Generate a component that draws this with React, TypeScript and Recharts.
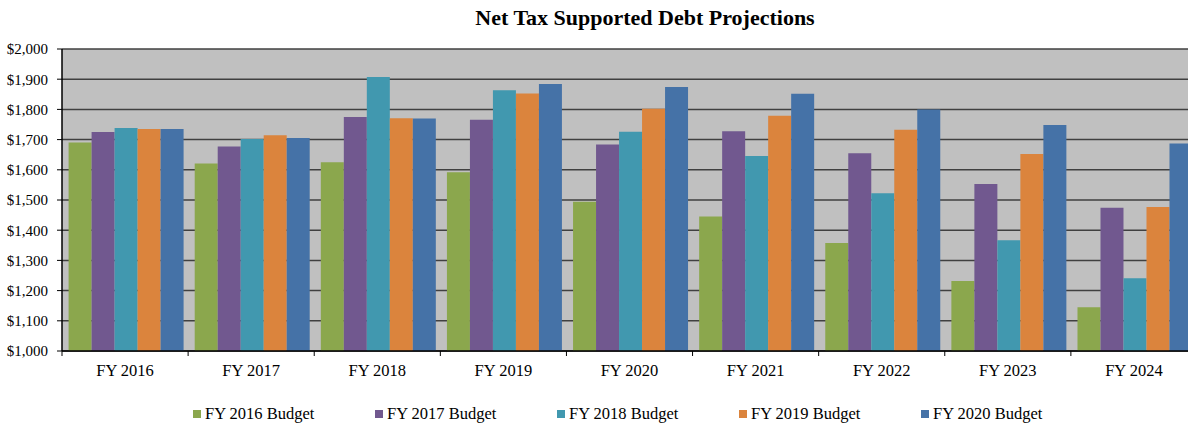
import React from "react";
import { BarChart, Bar, XAxis, YAxis, CartesianGrid, Legend } from "recharts";

const categories = ["FY 2016", "FY 2017", "FY 2018", "FY 2019", "FY 2020", "FY 2021", "FY 2022", "FY 2023", "FY 2024"];
const fy2016Budget = [1690, 1621, 1625, 1592, 1494, 1445, 1358, 1232, 1145];
const fy2017Budget = [1725, 1677, 1775, 1766, 1684, 1728, 1655, 1553, 1474];
const fy2018Budget = [1738, 1702, 1907, 1863, 1726, 1646, 1522, 1367, 1241];
const fy2019Budget = [1735, 1714, 1771, 1853, 1802, 1779, 1733, 1652, 1477];
const fy2020Budget = [1735, 1705, 1770, 1884, 1874, 1852, 1800, 1748, 1687];
const yTicks = [1000, 1100, 1200, 1300, 1400, 1500, 1600, 1700, 1800, 1900, 2000];

const seriesNames = ["FY 2016 Budget", "FY 2017 Budget", "FY 2018 Budget", "FY 2019 Budget", "FY 2020 Budget"];
const seriesValues = [fy2016Budget, fy2017Budget, fy2018Budget, fy2019Budget, fy2020Budget];
const seriesColors = ["#8BA74D", "#71588F", "#4198AF", "#DB843D", "#4572A7"];

const data = categories.map((c, i) => {
  const row: Record<string, string | number> = { name: c };
  seriesNames.forEach((s, k) => {
    row[s] = seriesValues[k][i];
  });
  return row;
});

const FONT = "'Liberation Serif', 'Times New Roman', serif";
const CHART_W = 1200;
const CHART_H = 423;
const MARGIN = { top: 49, right: 3, bottom: 0, left: 0 };
const Y_W = 62;
const PLOT_W = CHART_W - MARGIN.left - MARGIN.right - Y_W;
const BAND = PLOT_W / categories.length;

const XTick = (props: any) => {
  const { x, y, payload } = props;
  const bx = x - BAND / 2;
  return (
    <g>
      <line x1={bx} y1={y - 5} x2={bx} y2={y} stroke="#000" strokeWidth={1} />
      <text x={x} y={y + 20} textAnchor="middle" fill="#000" fontFamily={FONT} fontSize={16.5}>
        {payload.value}
      </text>
    </g>
  );
};

const LegendContent = () => (
  <div style={{ height: 42, paddingTop: 23, paddingLeft: 193, boxSizing: "border-box", display: "flex", fontFamily: FONT, fontSize: 16.5, lineHeight: "18px", color: "#000" }}>
    {seriesNames.map((s, k) => (
      <div key={s} style={{ width: 182, display: "flex", alignItems: "center", whiteSpace: "nowrap" }}>
        <span style={{ display: "inline-block", width: 8, height: 8, background: seriesColors[k], marginRight: 4 }} />
        <span>{s}</span>
      </div>
    ))}
  </div>
);

export default function App() {
  return (
    <div style={{ position: "relative", width: 1188, height: CHART_H, overflow: "hidden", background: "#fff" }}>
      <style>{"body{margin:0;overflow:hidden}"}</style>
      <div
        style={{
          position: "absolute",
          left: 0,
          top: 6.6,
          width: 1290,
          textAlign: "center",
          fontFamily: FONT,
          fontWeight: "bold",
          fontSize: 22,
          lineHeight: "22px",
          color: "#000",
          zIndex: 2,
        }}
      >
        Net Tax Supported Debt Projections
      </div>
      <BarChart width={CHART_W} height={CHART_H} data={data} margin={MARGIN} barCategoryGap={6.6} barGap={0}>
        <CartesianGrid vertical={false} fill="#C0C0C0" stroke="#404040" strokeWidth={1.5} strokeOpacity={1} />
        <XAxis
          dataKey="name"
          height={30}
          axisLine={{ stroke: "#000", strokeWidth: 1.5 }}
          tickLine={false}
          tickSize={5}
          tickMargin={0}
          tick={<XTick />}
          interval={0}
        />
        <YAxis
          width={Y_W}
          domain={[1000, 2000]}
          ticks={yTicks}
          allowDataOverflow
          axisLine={{ stroke: "#000", strokeWidth: 1.5 }}
          tickLine={{ stroke: "#000" }}
          tickSize={5}
          tickMargin={9}
          tick={{ fill: "#000", fontFamily: FONT, fontSize: 15 }}
          tickFormatter={(v: number) => "$" + v.toLocaleString("en-US")}
        />
        <Legend verticalAlign="bottom" content={<LegendContent />} />
        {seriesNames.map((s, k) => (
          <Bar key={s} dataKey={s} fill={seriesColors[k]} isAnimationActive={false} />
        ))}
      </BarChart>
    </div>
  );
}
